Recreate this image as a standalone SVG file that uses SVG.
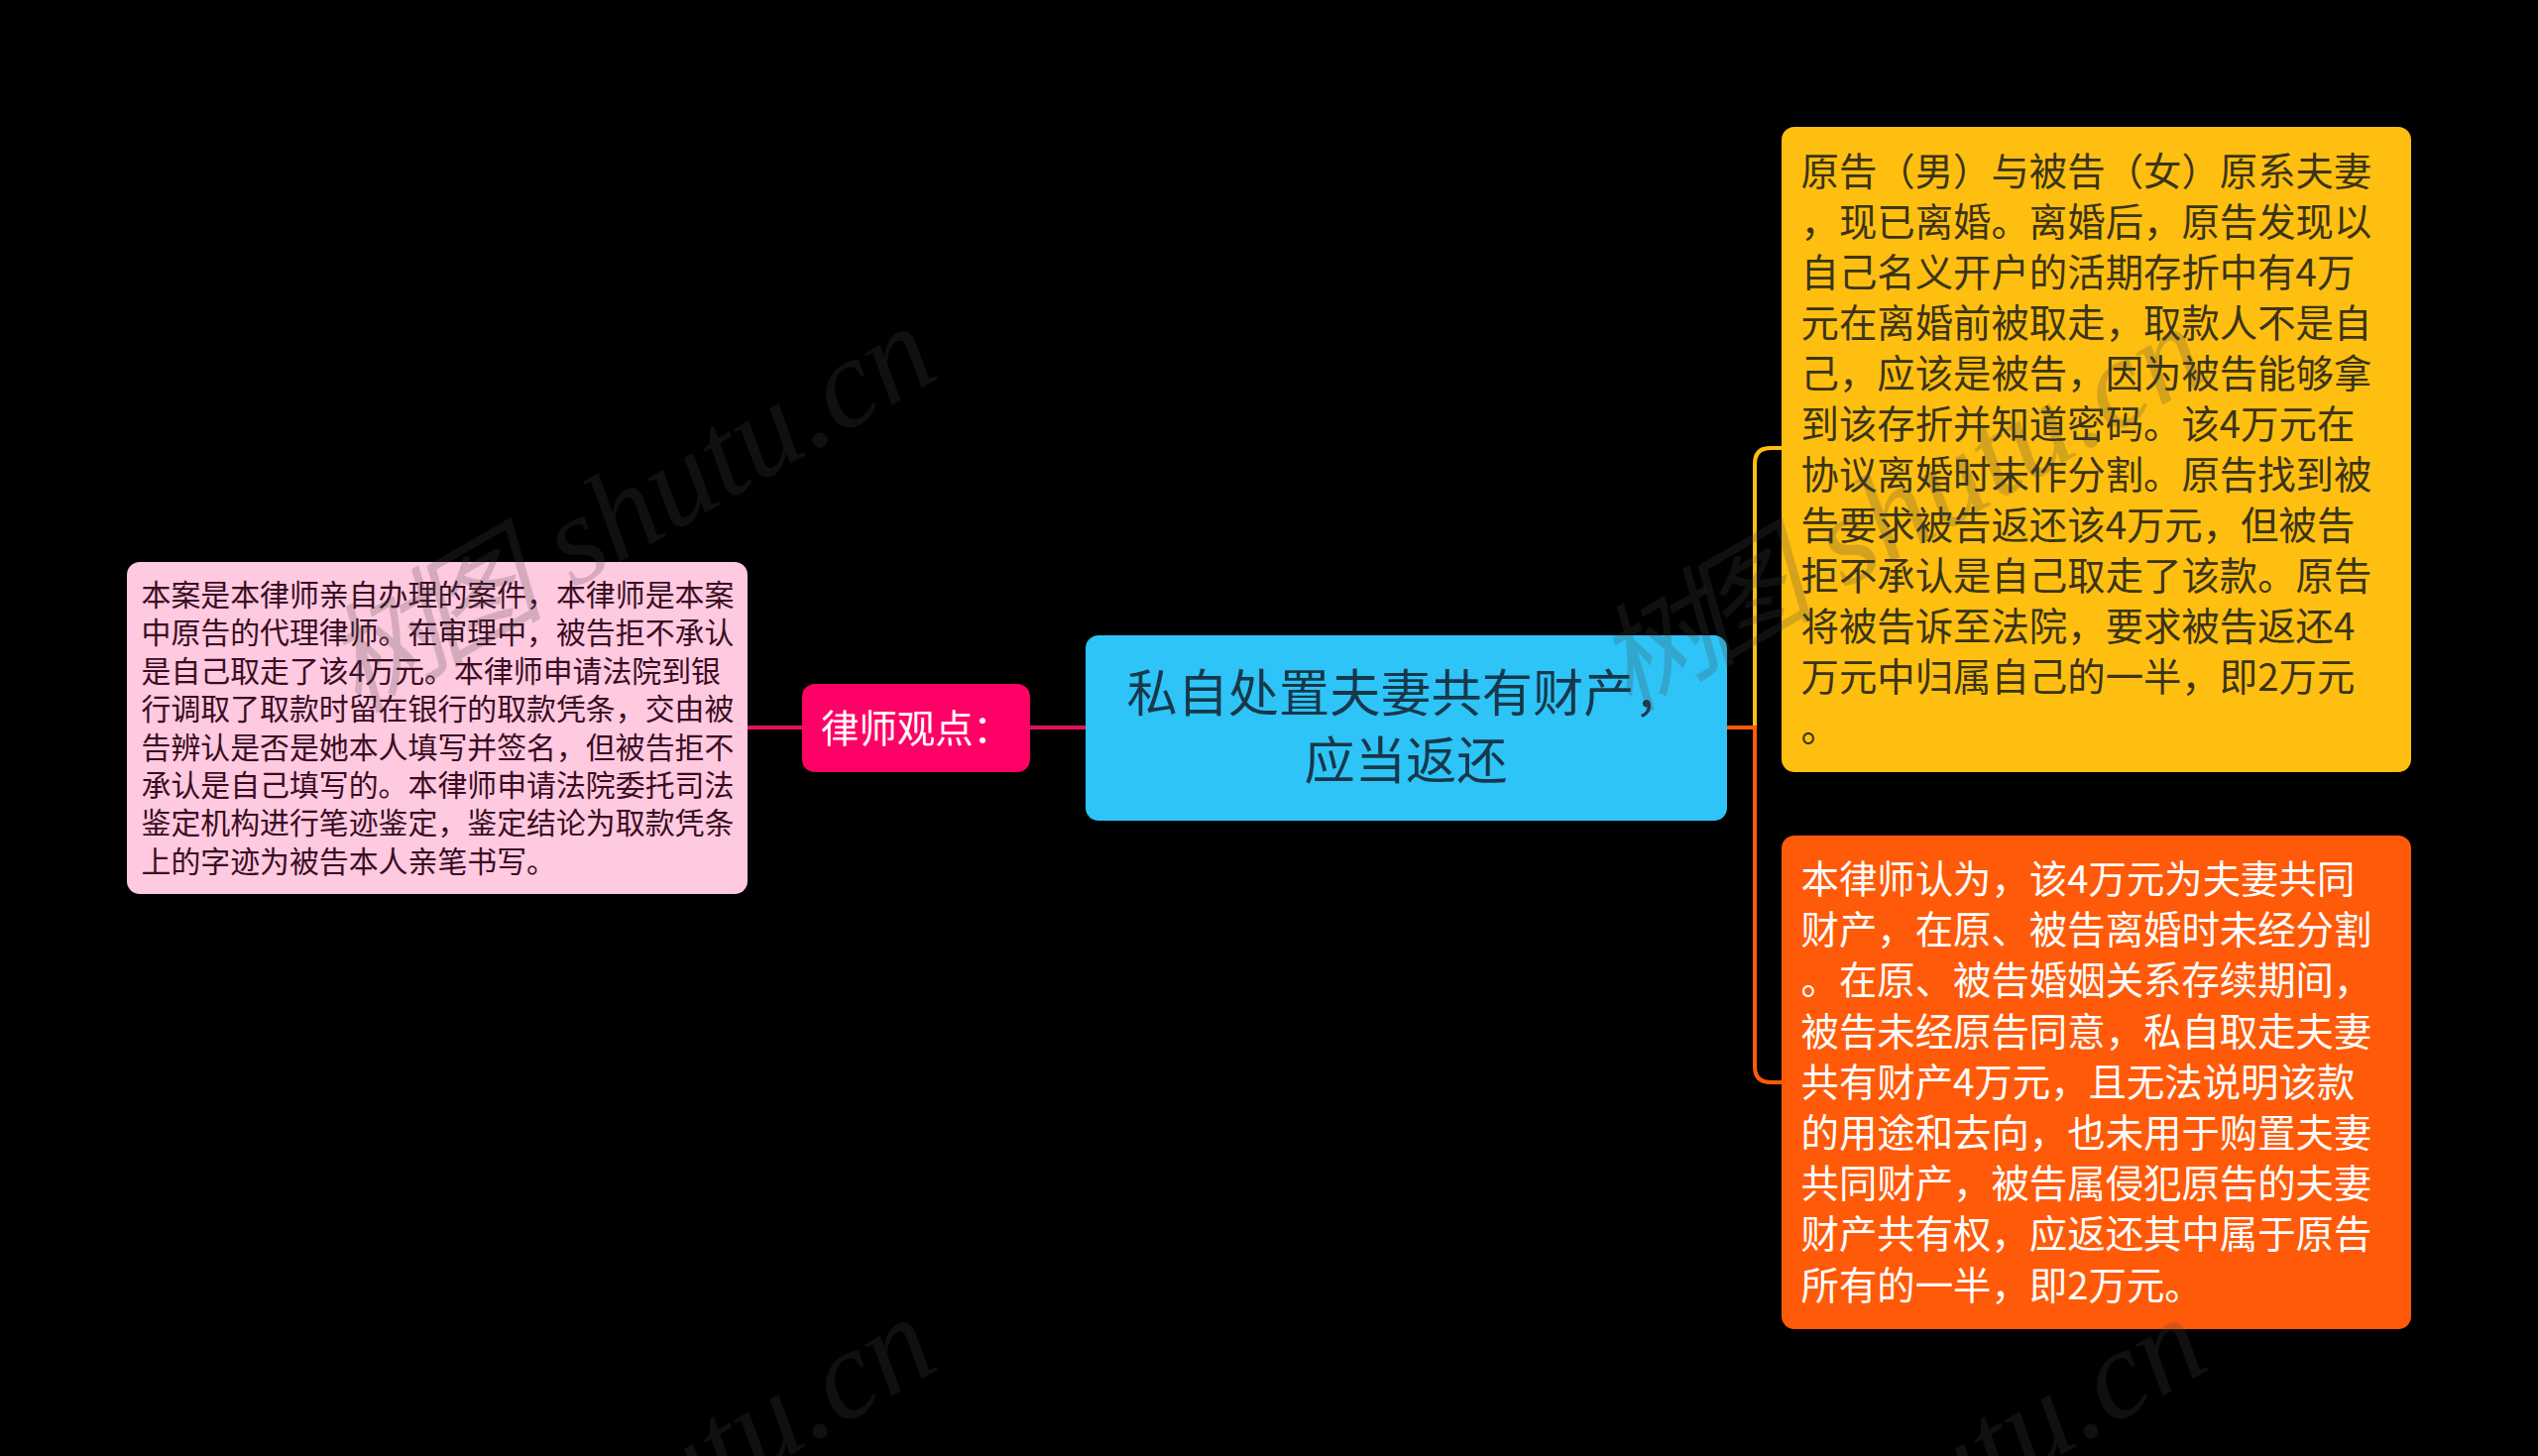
<svg xmlns="http://www.w3.org/2000/svg" width="2560" height="1469" viewBox="0 0 2560 1469">
<style>
text{font-family:"Noto Sans CJK SC","Liberation Sans",sans-serif}
.conn{fill:none;stroke-width:4}
.wm{font-family:"Liberation Serif","Noto Sans CJK SC",serif;font-style:italic;font-size:128px;fill:#464646;fill-opacity:.23;text-anchor:end}
.wm .cjk{font-size:118px;letter-spacing:-16px}
.t38{font-size:38.4px}
.t30{font-size:29.9px}
.t51{font-size:51.2px;text-anchor:middle;fill:#17384a}
</style>
<rect width="2560" height="1469" fill="#000"/>
<g id="connectors">
<path class="conn" stroke="#e0125f" d="M754 734H809M1039 734H1095"/>
<path class="conn" stroke="#ffbf10" d="M1741 734H1770V468Q1770 452 1786 452H1797"/>
<path class="conn" stroke="#ff5a09" d="M1741 734H1770V1076Q1770 1092 1786 1092H1797"/>
</g>
<g id="root">
<rect x="1095" y="641" width="647" height="187" rx="13" fill="#2ec4f8"/>
<text class="t51"><tspan x="1418" y="718">私自处置夫妻共有财产，</tspan><tspan x="1418" y="786">应当返还</tspan></text>
</g>
<g id="lawyer-view">
<rect x="809" y="690" width="230" height="89" rx="13" fill="#ff0066"/>
<text class="t38" x="828" y="749" fill="#fff">律师观点：</text>
</g>
<g id="lawyer-detail">
<rect x="128" y="567" width="626" height="335" rx="13" fill="#ffc9e0"/>
<text class="t30" fill="#3a0c22">
<tspan x="142.500" y="611">本案是本律师亲自办理的案件，本律师是本案</tspan>
<tspan x="142.500" y="649.4">中原告的代理律师。在审理中，被告拒不承认</tspan>
<tspan x="142.500" y="687.8">是自己取走了该4万元。本律师申请法院到银</tspan>
<tspan x="142.500" y="726.2">行调取了取款时留在银行的取款凭条，交由被</tspan>
<tspan x="142.500" y="764.6">告辨认是否是她本人填写并签名，但被告拒不</tspan>
<tspan x="142.500" y="803">承认是自己填写的。本律师申请法院委托司法</tspan>
<tspan x="142.500" y="841.4">鉴定机构进行笔迹鉴定，鉴定结论为取款凭条</tspan>
<tspan x="142.500" y="879.8">上的字迹为被告本人亲笔书写。</tspan>
</text>
</g>
<g id="facts">
<rect x="1797" y="128" width="635" height="651" rx="13" fill="#ffbf10"/>
<text class="t38" fill="#3b3416">
<tspan x="1816.500" y="187">原告（男）与被告（女）原系夫妻</tspan>
<tspan x="1816.500" y="238">，现已离婚。离婚后，原告发现以</tspan>
<tspan x="1816.500" y="289">自己名义开户的活期存折中有4万</tspan>
<tspan x="1816.500" y="340">元在离婚前被取走，取款人不是自</tspan>
<tspan x="1816.500" y="391">己，应该是被告，因为被告能够拿</tspan>
<tspan x="1816.500" y="442">到该存折并知道密码。该4万元在</tspan>
<tspan x="1816.500" y="493">协议离婚时未作分割。原告找到被</tspan>
<tspan x="1816.500" y="544">告要求被告返还该4万元，但被告</tspan>
<tspan x="1816.500" y="595">拒不承认是自己取走了该款。原告</tspan>
<tspan x="1816.500" y="646">将被告诉至法院，要求被告返还4</tspan>
<tspan x="1816.500" y="697">万元中归属自己的一半，即2万元</tspan>
<tspan x="1816.500" y="748">。</tspan>
</text>
</g>
<g id="opinion">
<rect x="1797" y="843" width="635" height="498" rx="13" fill="#ff5a09"/>
<text class="t38" fill="#fff">
<tspan x="1816.500" y="901">本律师认为，该4万元为夫妻共同</tspan>
<tspan x="1816.500" y="952.2">财产，在原、被告离婚时未经分割</tspan>
<tspan x="1816.500" y="1003.4">。在原、被告婚姻关系存续期间，</tspan>
<tspan x="1816.500" y="1054.6">被告未经原告同意，私自取走夫妻</tspan>
<tspan x="1816.500" y="1105.8">共有财产4万元，且无法说明该款</tspan>
<tspan x="1816.500" y="1157">的用途和去向，也未用于购置夫妻</tspan>
<tspan x="1816.500" y="1208.2">共同财产，被告属侵犯原告的夫妻</tspan>
<tspan x="1816.500" y="1259.4">财产共有权，应返还其中属于原告</tspan>
<tspan x="1816.500" y="1310.6">所有的一半，即2万元。</tspan>
</text>
</g>
<g id="watermarks">
<text class="wm" transform="translate(951 379) rotate(-30)"><tspan class="cjk">树图</tspan><tspan dx="16"> shutu.cn</tspan></text>
<text class="wm" transform="translate(2233 379) rotate(-30)"><tspan class="cjk">树图</tspan><tspan dx="16"> shutu.cn</tspan></text>
<text class="wm" transform="translate(951 1379) rotate(-30)"><tspan class="cjk">树图</tspan><tspan dx="16"> shutu.cn</tspan></text>
<text class="wm" transform="translate(2233 1379) rotate(-30)"><tspan class="cjk">树图</tspan><tspan dx="16"> shutu.cn</tspan></text>
</g>
</svg>
